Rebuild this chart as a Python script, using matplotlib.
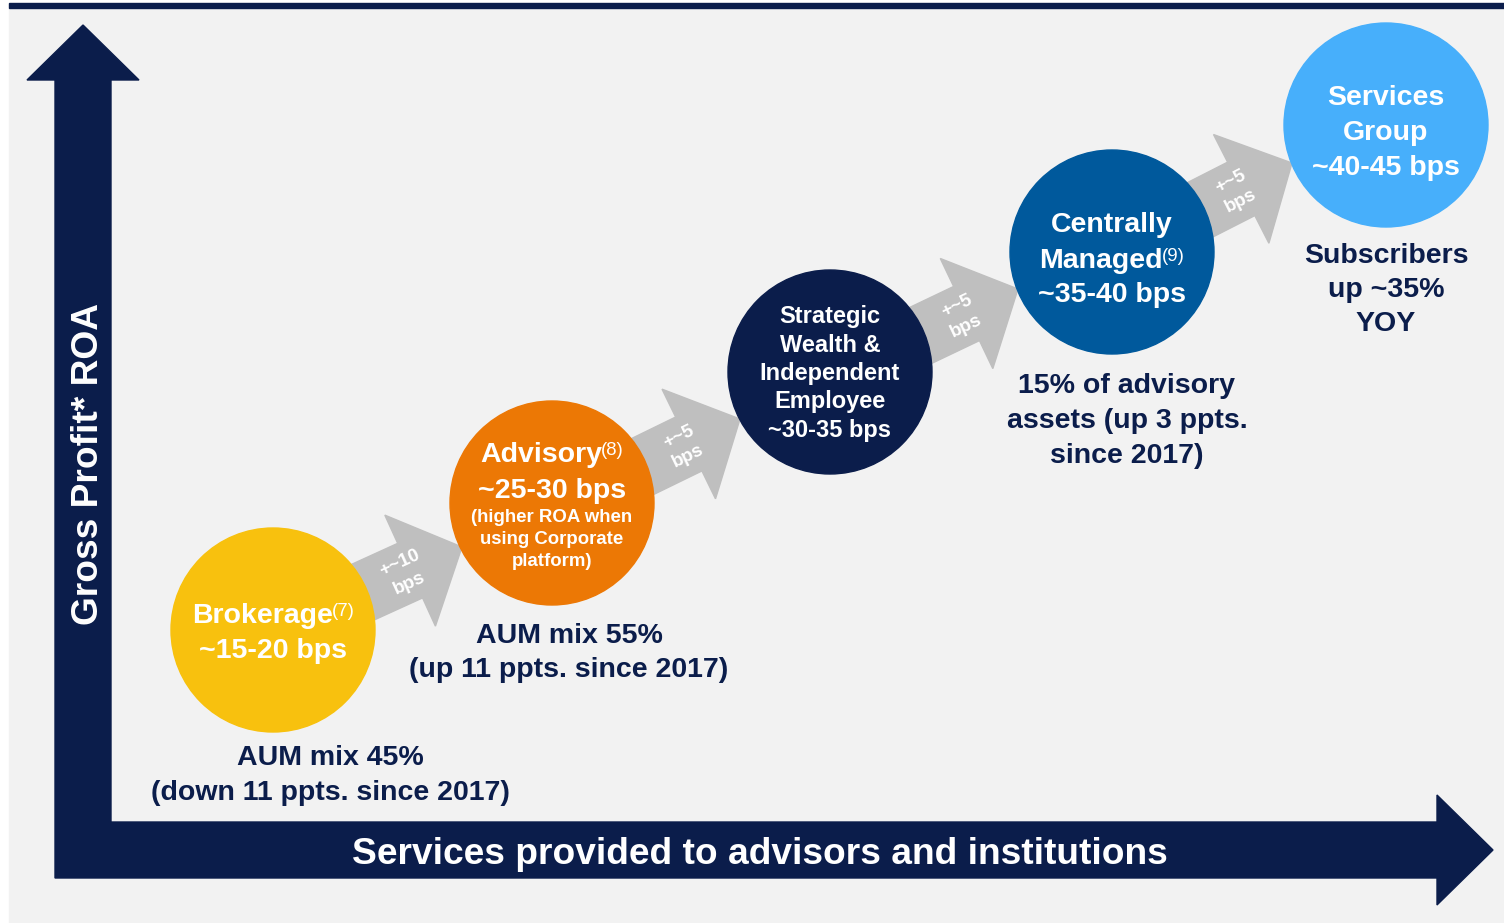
import numpy as np
import matplotlib.pyplot as plt
from matplotlib.patches import Circle, Polygon, Rectangle

# stage names, footnotes, ROA ranges and side notes
names = [["Brokerage"], ["Advisory"],
         ["Strategic", "Wealth &", "Independent", "Employee"],
         ["Centrally", "Managed"], ["Services", "Group"]]
footnotes = ["(7)", "(8)", "", "(9)", ""]
roa = ["~15-20 bps", "~25-30 bps", "~30-35 bps", "~35-40 bps", "~40-45 bps"]
advisory_note = ["(higher ROA when", "using Corporate", "platform)"]
steps = ["+~10\nbps", "+~5\nbps", "+~5\nbps", "+~5\nbps"]
notes = [["AUM mix 45%", "(down 11 ppts. since 2017)"],
         ["AUM mix 55%", "(up 11 ppts. since 2017)"],
         [],
         ["15% of advisory", "assets (up 3 ppts.", "since 2017)"],
         ["Subscribers", "up ~35%", "YOY"]]
y_title = "Gross Profit* ROA"
x_title = "Services provided to advisors and institutions"

# layout (pixels)
centers = [(273, 630), (552, 503), (830, 372), (1112, 252), (1386, 125)]
radius = 102
colors = ["#F8C10E", "#EC7805", "#0B1D4B", "#00599C", "#47AFFB"]
tips = [(462, 547), (740, 419), (1018, 289), (1292, 163)]
angles = [24.5, 26.0, 25.5, 27.0]
text_base = [[623, 658], [462, 498, 522, 544, 566], [323, 352, 380, 408, 437],
             [232, 268, 302], [105, 140, 175]]
note_pos = [(330, 765, 35), (569, 643, 34), None, (1127, 393, 35), (1386, 263, 34)]

navy = "#0B1D4B"
font = "Liberation Sans"

fig = plt.figure(figsize=(15.04, 9.23), dpi=100)
ax = fig.add_axes([0, 0, 1, 1])
ax.set_xlim(0, 1504)
ax.set_ylim(923, 0)
ax.axis("off")

ax.add_patch(Rectangle((9, 8), 1495, 915, color="#F2F2F2", zorder=0))
ax.add_patch(Rectangle((9, 3), 1495, 5, color=navy, zorder=1))

# axes arrows
axis_pts = [(55, 878), (55, 80), (27, 80), (83, 25), (139, 80), (111, 80),
            (111, 822), (1437, 822), (1437, 795), (1493, 850), (1437, 905),
            (1437, 878)]
ax.add_patch(Polygon(axis_pts, closed=True, color=navy, zorder=2))
ax.text(98, 464, y_title, rotation=90, rotation_mode="anchor", ha="center",
        va="baseline", color="white", fontsize=26.7, fontweight="bold", family=font, zorder=3)
ax.text(760, 864, x_title, ha="center", va="baseline", color="white",
        fontsize=26.7, fontweight="bold", family=font, zorder=3)

# step arrows
w, hw, hl, L = 60, 122, 57, 190
for tip, ang, lab in zip(tips, angles, steps):
    a = np.radians(ang)
    d = np.array([np.cos(a), -np.sin(a)])
    p = np.array([np.sin(a), np.cos(a)])
    t = np.array(tip, dtype=float)
    local = [(0, -w / 2), (L - hl, -w / 2), (L - hl, -hw / 2), (L, 0),
             (L - hl, hw / 2), (L - hl, w / 2), (0, w / 2)]
    pts = [t - (L - u) * d + v * p for u, v in local]
    ax.add_patch(Polygon(pts, closed=True, color="#BFBFBF", zorder=3))
    c = t - (hl + 6) * d
    ax.text(c[0], c[1], lab, rotation=ang, ha="center", va="center",
            rotation_mode="anchor", color="white", fontsize=13.5,
            fontweight="bold", family=font, linespacing=1.35, zorder=4)

renderer = fig.canvas.get_renderer()


def line(x, y, s, size, sup="", color="white"):
    t = ax.text(x, y, s, ha="left", va="baseline", color=color, fontsize=size,
                fontweight="bold", family=font, zorder=6)
    w1 = t.get_window_extent(renderer).width
    w2 = 0
    if sup:
        st = ax.text(x, y - 7, sup, ha="left", va="baseline", color=color,
                     fontsize=13.4, family=font, zorder=6)
        w2 = st.get_window_extent(renderer).width - 1
    x0 = x - (w1 + w2) / 2
    t.set_x(x0)
    if sup:
        st.set_x(x0 + w1 - 1)


for i, (cx, cy) in enumerate(centers):
    ax.add_patch(Circle((cx, cy), radius, color=colors[i], zorder=5))
    big = 17 if i == 2 else 20.5
    rows = names[i] + [roa[i]]
    base = text_base[i]
    for j, s in enumerate(rows):
        sup = footnotes[i] if j == len(names[i]) - 1 else ""
        line(cx, base[j], s, big, sup)
    if i == 1:
        for j, s in enumerate(advisory_note):
            line(cx, base[2 + j], s, 13.4)
    if note_pos[i]:
        nx, ny, step = note_pos[i]
        for j, s in enumerate(notes[i]):
            line(nx, ny + j * step, s, 20.5, color=navy)

fig.savefig("out.png", dpi=100)
